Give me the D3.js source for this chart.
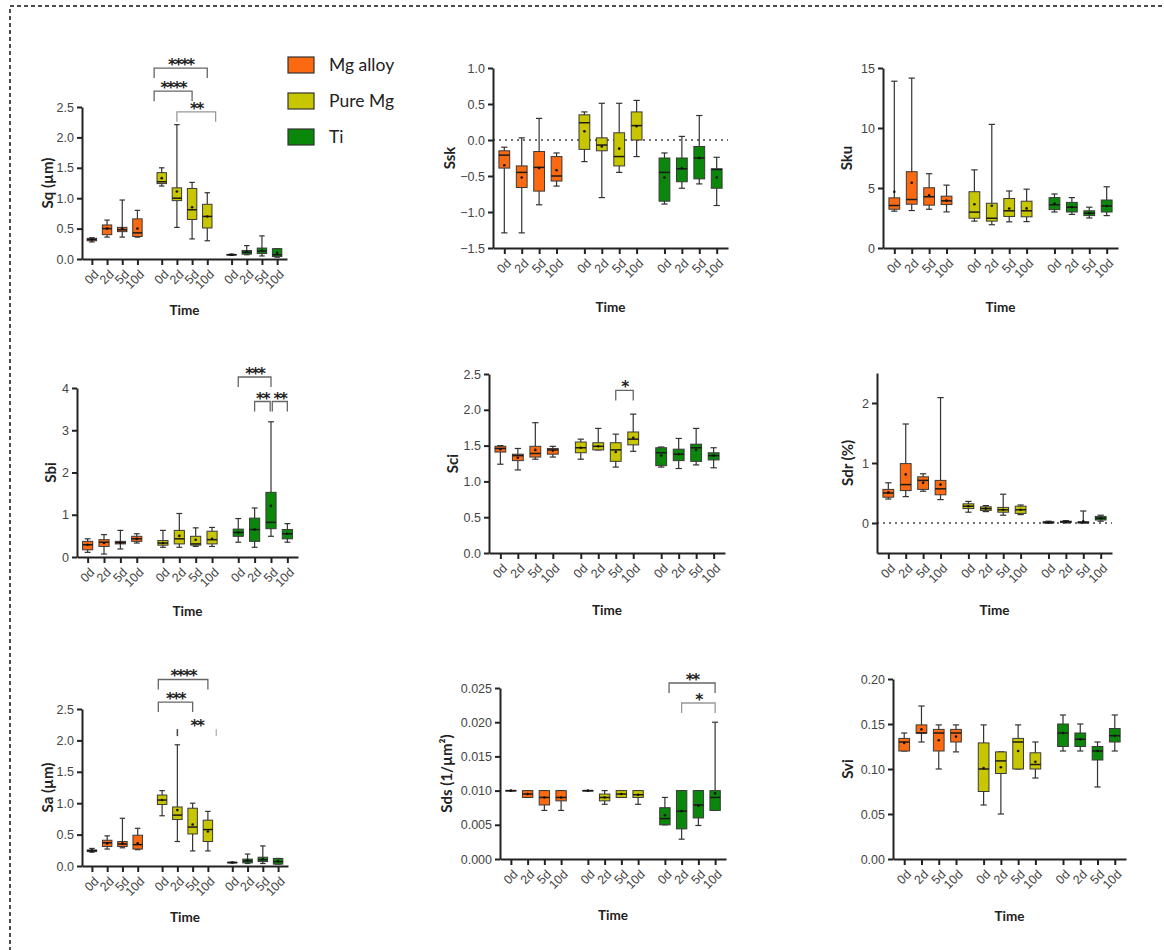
<!DOCTYPE html>
<html>
<head>
<meta charset="utf-8">
<script src="https://cdn.jsdelivr.net/npm/d3@7"></script>
<style>
  body { margin: 0; background: #fff; }
  svg { display: block; font-family: Lato, "Open Sans", sans-serif; }
</style>
</head>
<body>
<div id="root"></div>
<script>
// groups and time points
const groups = ["Mg alloy", "Pure Mg", "Ti"];
const times = ["0d", "2d", "5d", "10d"];
const colors = ["#fb6a10", "#c8c600", "#0b870b"];

// box stats: [min, q1, median, q3, max, mean], Mg alloy 0d..10d, Pure Mg 0d..10d, Ti 0d..10d
const sqStats = [
  [0.28, 0.30, 0.32, 0.34, 0.35, 0.32], [0.36, 0.40, 0.50, 0.56, 0.64, 0.50],
  [0.36, 0.45, 0.48, 0.52, 0.97, 0.50], [0.36, 0.37, 0.43, 0.66, 0.80, 0.50],
  [1.20, 1.24, 1.27, 1.42, 1.50, 1.33], [0.52, 0.96, 1.00, 1.17, 2.21, 1.11],
  [0.33, 0.65, 0.81, 1.16, 1.26, 0.85], [0.30, 0.51, 0.70, 0.90, 1.09, 0.70],
  [0.06, 0.065, 0.07, 0.075, 0.08, 0.07], [0.07, 0.08, 0.11, 0.14, 0.22, 0.12],
  [0.05, 0.09, 0.13, 0.18, 0.38, 0.14], [0.03, 0.04, 0.07, 0.17, 0.17, 0.10]
];
const sskStats = [
  [-1.29, -0.39, -0.21, -0.15, -0.10, -0.35], [-1.29, -0.66, -0.45, -0.36, 0.03, -0.52],
  [-0.90, -0.71, -0.38, -0.16, 0.30, -0.39], [-0.64, -0.57, -0.50, -0.23, -0.18, -0.42],
  [-0.30, -0.13, 0.24, 0.35, 0.39, 0.12], [-0.80, -0.15, -0.07, 0.03, 0.51, -0.09],
  [-0.45, -0.36, -0.23, 0.10, 0.51, -0.12], [-0.23, 0.0, 0.20, 0.39, 0.55, 0.19],
  [-0.89, -0.85, -0.45, -0.25, -0.18, -0.52], [-0.67, -0.58, -0.40, -0.25, 0.05, -0.39],
  [-0.61, -0.54, -0.25, -0.09, 0.34, -0.25], [-0.91, -0.67, -0.41, -0.40, -0.24, -0.52]
];
const skuStats = [
  [3.07, 3.23, 3.54, 4.18, 13.9, 4.69], [3.12, 3.65, 4.04, 6.36, 14.16, 5.44],
  [3.23, 3.57, 4.27, 5.02, 6.19, 4.40], [3.01, 3.62, 3.93, 4.32, 5.24, 3.95],
  [2.24, 2.48, 2.99, 4.69, 6.51, 3.64], [1.94, 2.24, 2.48, 3.73, 10.3, 3.52],
  [2.18, 2.63, 3.10, 4.12, 4.75, 3.29], [2.20, 2.60, 3.10, 3.90, 4.90, 3.30],
  [3.00, 3.20, 3.60, 4.20, 4.50, 3.70], [2.80, 3.00, 3.40, 3.80, 4.20, 3.40],
  [2.50, 2.70, 2.90, 3.10, 3.40, 2.90], [2.70, 3.00, 3.50, 4.00, 5.10, 3.50]
];
const sbiStats = [
  [0.11, 0.17, 0.29, 0.37, 0.43, 0.29], [0.07, 0.25, 0.35, 0.41, 0.53, 0.33],
  [0.19, 0.31, 0.34, 0.37, 0.63, 0.34], [0.33, 0.37, 0.43, 0.49, 0.55, 0.43],
  [0.23, 0.28, 0.33, 0.39, 0.63, 0.33], [0.23, 0.31, 0.43, 0.63, 1.03, 0.50],
  [0.25, 0.28, 0.31, 0.49, 0.69, 0.41], [0.25, 0.31, 0.41, 0.61, 0.70, 0.43],
  [0.35, 0.49, 0.58, 0.66, 0.91, 0.58], [0.23, 0.37, 0.65, 0.92, 1.16, 0.65],
  [0.49, 0.67, 0.82, 1.53, 3.20, 1.21], [0.35, 0.43, 0.55, 0.65, 0.79, 0.55]
];
const sciStats = [
  [1.24, 1.41, 1.46, 1.49, 1.50, 1.45], [1.16, 1.29, 1.36, 1.38, 1.46, 1.33],
  [1.31, 1.34, 1.39, 1.49, 1.82, 1.44], [1.34, 1.38, 1.44, 1.46, 1.49, 1.43],
  [1.31, 1.40, 1.47, 1.55, 1.59, 1.47], [1.44, 1.44, 1.49, 1.54, 1.74, 1.49],
  [1.20, 1.28, 1.44, 1.54, 1.66, 1.41], [1.42, 1.51, 1.59, 1.69, 1.94, 1.61],
  [1.20, 1.22, 1.40, 1.47, 1.48, 1.36], [1.18, 1.29, 1.38, 1.45, 1.60, 1.38],
  [1.23, 1.28, 1.47, 1.52, 1.74, 1.44], [1.19, 1.30, 1.36, 1.40, 1.47, 1.36]
];
const sdrStats = [
  [0.40, 0.43, 0.50, 0.56, 0.67, 0.51], [0.44, 0.54, 0.64, 0.99, 1.65, 0.81],
  [0.53, 0.56, 0.71, 0.77, 0.82, 0.67], [0.39, 0.47, 0.57, 0.71, 2.09, 0.64],
  [0.18, 0.24, 0.28, 0.32, 0.36, 0.28], [0.19, 0.21, 0.24, 0.27, 0.29, 0.24],
  [0.13, 0.18, 0.22, 0.26, 0.48, 0.22], [0.14, 0.16, 0.22, 0.28, 0.30, 0.22],
  [0.00, 0.00, 0.01, 0.02, 0.03, 0.01], [0.00, 0.01, 0.02, 0.03, 0.04, 0.02],
  [0.00, 0.00, 0.01, 0.02, 0.20, 0.03], [0.03, 0.05, 0.08, 0.11, 0.13, 0.08]
];
const saStats = [
  [0.22, 0.23, 0.245, 0.255, 0.28, 0.245], [0.27, 0.31, 0.37, 0.41, 0.48, 0.36],
  [0.29, 0.31, 0.35, 0.39, 0.76, 0.36], [0.26, 0.27, 0.34, 0.49, 0.60, 0.36],
  [0.80, 0.98, 1.05, 1.13, 1.20, 1.05], [0.39, 0.74, 0.81, 0.94, 1.93, 0.89],
  [0.24, 0.51, 0.62, 0.92, 1.00, 0.66], [0.24, 0.39, 0.58, 0.73, 0.87, 0.55],
  [0.05, 0.05, 0.055, 0.06, 0.06, 0.055], [0.04, 0.05, 0.08, 0.11, 0.19, 0.09],
  [0.04, 0.07, 0.10, 0.14, 0.32, 0.11], [0.03, 0.03, 0.07, 0.12, 0.12, 0.08]
];
const sdsStats = [
  [0.010, 0.010, 0.010, 0.010, 0.010, 0.010], [0.009, 0.009, 0.0095, 0.010, 0.010, 0.0095],
  [0.0071, 0.0079, 0.009, 0.010, 0.010, 0.009], [0.0071, 0.0085, 0.009, 0.010, 0.010, 0.009],
  [0.010, 0.010, 0.010, 0.010, 0.010, 0.010], [0.008, 0.0085, 0.009, 0.0095, 0.010, 0.009],
  [0.009, 0.009, 0.0095, 0.010, 0.010, 0.0095], [0.008, 0.009, 0.0094, 0.010, 0.010, 0.0094],
  [0.005, 0.005, 0.0059, 0.0075, 0.009, 0.0064], [0.0029, 0.0044, 0.007, 0.010, 0.010, 0.007],
  [0.0049, 0.006, 0.0079, 0.010, 0.010, 0.0078], [0.0071, 0.0071, 0.009, 0.010, 0.020, 0.0096]
];
const sviStats = [
  [0.120, 0.120, 0.130, 0.134, 0.140, 0.129], [0.130, 0.140, 0.140, 0.149, 0.170, 0.144],
  [0.100, 0.120, 0.140, 0.144, 0.149, 0.132], [0.119, 0.130, 0.140, 0.144, 0.149, 0.136],
  [0.060, 0.075, 0.100, 0.129, 0.149, 0.101], [0.050, 0.095, 0.109, 0.119, 0.119, 0.102],
  [0.100, 0.100, 0.130, 0.134, 0.149, 0.120], [0.090, 0.100, 0.105, 0.118, 0.130, 0.108],
  [0.120, 0.125, 0.140, 0.150, 0.160, 0.140], [0.120, 0.125, 0.133, 0.140, 0.150, 0.133],
  [0.080, 0.110, 0.120, 0.125, 0.130, 0.120], [0.120, 0.130, 0.137, 0.145, 0.160, 0.137]
];

// significance brackets: [group, timeFrom, timeTo, level, label, style 0 dark / 1 light / 2 ends only]
const sqBrackets = [[1, -0.5, 3, 3.14, "****", 0], [1, -0.5, 2, 2.76, "****", 0], [1, 1, 3.55, 2.42, "**", 1]];
const sbiBrackets = [[2, 0, 2, 4.26, "***", 0], [2, 1, 1.95, 3.68, "**", 0], [2, 2.08, 3, 3.68, "**", 0]];
const sciBrackets = [[1, 2, 3, 2.27, "*", 0]];
const saBrackets = [[1, -0.25, 3, 2.97, "****", 0], [1, -0.25, 2, 2.61, "***", 0], [1, 1, 3.55, 2.18, "**", 2]];
const sdsBrackets = [[2, 0.25, 3, 0.02573, "**", 0], [2, 1, 3, 0.02281, "*", 1]];

// y tick values
const sqTicks = [0, 0.5, 1, 1.5, 2, 2.5];
const sskTicks = [-1.5, -1, -0.5, 0, 0.5, 1];
const skuTicks = [0, 5, 10, 15];
const sbiTicks = [0, 1, 2, 3, 4];
const sdrTicks = [0, 1, 2];
const sdsTicks = [0, 0.005, 0.01, 0.015, 0.02, 0.025];
const sviTicks = [0, 0.05, 0.1, 0.15, 0.2];

// panel layout
const panels = [
  { label: "Sq (µm)", stats: sqStats, brackets: sqBrackets, domain: [0, 2.5], ticks: sqTicks, fmt: ".1f", left: 82, right: 287, top: 107, bottom: 259, labelX: 48, timeY: 310 },
  { label: "Ssk", stats: sskStats, brackets: [], domain: [-1.5, 1], ticks: sskTicks, fmt: ".1f", left: 493, right: 728, top: 68, bottom: 248, labelX: 450, timeY: 307, zero: true },
  { label: "Sku", stats: skuStats, brackets: [], domain: [0, 15], ticks: skuTicks, fmt: "d", left: 883, right: 1118, top: 68, bottom: 248, labelX: 847, timeY: 307 },
  { label: "Sbi", stats: sbiStats, brackets: sbiBrackets, domain: [0, 4], ticks: sbiTicks, fmt: "d", left: 77, right: 298, top: 388, bottom: 557, labelX: 51, timeY: 611 },
  { label: "Sci", stats: sciStats, brackets: sciBrackets, domain: [0, 2.5], ticks: sqTicks, fmt: ".1f", left: 489, right: 725, top: 374, bottom: 553, labelX: 453, timeY: 610 },
  { label: "Sdr (%)", stats: sdrStats, brackets: [], domain: [-0.5, 2.5], ticks: sdrTicks, fmt: "d", left: 877, right: 1112, top: 373, bottom: 553, labelX: 848, timeY: 610, zero: true },
  { label: "Sa (µm)", stats: saStats, brackets: saBrackets, domain: [0, 2.5], ticks: sqTicks, fmt: ".1f", left: 82, right: 288, top: 709, bottom: 866, labelX: 48, timeY: 917 },
  { label: "Sds (1/µm²)", stats: sdsStats, brackets: sdsBrackets, domain: [0, 0.025], ticks: sdsTicks, fmt: ".3f", left: 500, right: 726, top: 688, bottom: 859, labelX: 447, timeY: 915 },
  { label: "Svi", stats: sviStats, brackets: [], domain: [0, 0.2], ticks: sviTicks, fmt: ".2f", left: 893, right: 1126, top: 679, bottom: 859, labelX: 848, timeY: 916 }
];

// slot spacing: 4 time points per group, groups 4.6 slots apart
const groupGap = 4.6, pad = 0.65;
const slot = (g, t) => g * groupGap + t;

let svg = d3.select("#root").append("svg").attr("width", 1164).attr("height", 950);

// dashed frame
svg.append("rect")
  .attr("x", 10).attr("y", 6).attr("width", 1170).attr("height", 1000)
  .attr("fill", "none").attr("stroke", "#111").attr("stroke-width", 1.5)
  .attr("stroke-dasharray", "4,3");

const drawPanel = (p) => {
  let x = d3.scaleLinear().domain([-pad, slot(2, 3) + pad]).range([p.left, p.right]);
  let y = d3.scaleLinear().domain(p.domain).range([p.bottom, p.top]);
  let step = x(1) - x(0);
  let g = svg.append("g");

  // zero reference line
  if (p.zero) {
    g.append("line")
      .attr("x1", p.left).attr("x2", p.right).attr("y1", y(0)).attr("y2", y(0))
      .attr("stroke", "#444").attr("stroke-width", 1.5).attr("stroke-dasharray", "2,4");
  }

  // y axis
  let yAxis = g.append("g")
    .attr("transform", "translate(" + p.left + ",0)")
    .call(d3.axisLeft(y).tickValues(p.ticks).tickFormat(d3.format(p.fmt)).tickSize(5).tickSizeOuter(0));

  // x axis with rotated time labels
  let slots = [];
  groups.forEach((gr, gi) => times.forEach((t, ti) => slots.push(slot(gi, ti))));
  let xAxis = g.append("g")
    .attr("transform", "translate(0," + p.bottom + ")")
    .call(d3.axisBottom(x).tickValues(slots).tickFormat((d, i) => times[i % 4]).tickSize(6).tickSizeOuter(0));

  [yAxis, xAxis].forEach((a) => {
    a.select(".domain").attr("stroke", "#222").attr("stroke-width", 2);
    a.selectAll(".tick line").attr("stroke", "#222").attr("stroke-width", 2);
    a.selectAll("text").attr("fill", "#444").style("font-size", "12.5px");
  });
  xAxis.selectAll("text")
    .attr("x", 0).attr("y", 0).attr("dy", "0.35em")
    .attr("text-anchor", "end")
    .attr("transform", "translate(4,13) rotate(-45)");

  // boxes
  let bw = step * 0.62, cw = step * 0.36;
  p.stats.forEach((s, i) => {
    let cx = x(slot(Math.floor(i / 4), i % 4));
    let col = colors[Math.floor(i / 4)];
    g.append("line")
      .attr("x1", cx).attr("x2", cx).attr("y1", y(s[0])).attr("y2", y(s[4]))
      .attr("stroke", "#333").attr("stroke-width", 1.2);
    [s[0], s[4]].forEach((v) => {
      g.append("line")
        .attr("x1", cx - cw / 2).attr("x2", cx + cw / 2).attr("y1", y(v)).attr("y2", y(v))
        .attr("stroke", "#333").attr("stroke-width", 1.2);
    });
    g.append("rect")
      .attr("x", cx - bw / 2).attr("width", bw)
      .attr("y", y(s[3])).attr("height", Math.max(y(s[1]) - y(s[3]), 0.5))
      .attr("fill", col).attr("stroke", "#3a3a3a").attr("stroke-width", 1);
    g.append("line")
      .attr("x1", cx - bw / 2).attr("x2", cx + bw / 2).attr("y1", y(s[2])).attr("y2", y(s[2]))
      .attr("stroke", "#1a1a1a").attr("stroke-width", 1.5);
    g.append("circle")
      .attr("cx", cx).attr("cy", y(s[5])).attr("r", 1.3).attr("fill", "#111");
  });

  // significance brackets
  p.brackets.forEach((b) => {
    let x1 = x(slot(b[0], b[1])), x2 = x(slot(b[0], b[2])), yy = y(b[3]);
    let stroke = b[5] === 1 ? "#999" : "#666";
    if (b[5] === 2) {
      [x1, x2].forEach((xx, k) => {
        g.append("line")
          .attr("x1", xx).attr("x2", xx).attr("y1", yy).attr("y2", yy + 7)
          .attr("stroke", k === 0 ? "#444" : "#bbb").attr("stroke-width", 1.5);
      });
    } else {
      g.append("path")
        .attr("d", "M" + x1 + "," + (yy + 10) + "V" + yy + "H" + x2 + "V" + (yy + 10))
        .attr("fill", "none").attr("stroke", stroke).attr("stroke-width", 1.3);
    }
    g.append("text")
      .attr("x", (x1 + x2) / 2).attr("y", yy + 2)
      .attr("text-anchor", "middle")
      .style("font-family", "'DejaVu Sans', sans-serif")
      .style("font-size", "15.5px").style("font-weight", "bold").style("letter-spacing", "-1.8px")
      .attr("fill", "#222")
      .text(b[4]);
  });

  // axis titles
  g.append("text")
    .attr("transform", "translate(" + p.labelX + "," + (p.top + p.bottom) / 2 + ") rotate(-90)")
    .attr("text-anchor", "middle").attr("dy", "0.35em")
    .style("font-size", "15px").style("font-weight", "bold").attr("fill", "#222")
    .text(p.label);
  g.append("text")
    .attr("x", (p.left + p.right) / 2).attr("y", p.timeY).attr("dy", "0.35em")
    .attr("text-anchor", "middle")
    .style("font-size", "13.5px").style("font-weight", "bold").attr("fill", "#222")
    .text("Time");
};

panels.forEach(drawPanel);

// legend
let legend = svg.append("g").attr("transform", "translate(288,57)");
groups.forEach((gr, i) => {
  let row = legend.append("g").attr("transform", "translate(0," + i * 36 + ")");
  row.append("rect").attr("width", 26).attr("height", 16)
    .attr("fill", colors[i]).attr("stroke", "#333").attr("stroke-width", 1.2);
  row.append("text").attr("x", 41).attr("y", 8).attr("dy", "0.35em")
    .style("font-size", "17.5px").attr("fill", "#222").text(gr);
});
</script>
</body>
</html>
